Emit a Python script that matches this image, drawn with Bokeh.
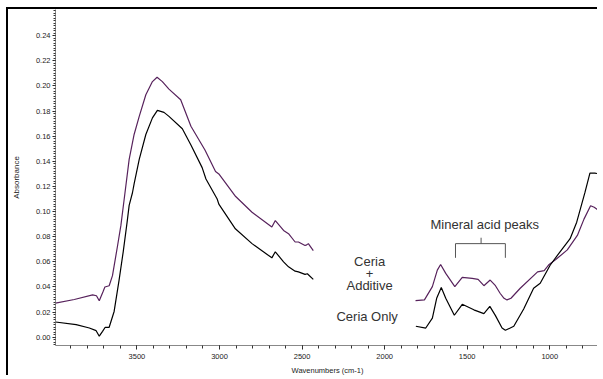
from bokeh.plotting import figure
from bokeh.models import Range1d, FixedTicker, PrintfTickFormatter, Label
from bokeh.embed import file_html
from bokeh.resources import INLINE

NAN = float("nan")

# Ceria + Additive (purple)
add_wn = [3993, 3879, 3768, 3745, 3728, 3706, 3694, 3668, 3648, 3617, 3597, 3577, 3547, 3517,
          3486, 3446, 3406, 3378, 3346, 3306, 3235, 3173, 3088, 3024, 3004, 2902, 2803, 2683,
          2662, 2612, 2582, 2542, 2522, 2482, 2472, 2462, 2432,
          NAN,
          1813, 1759, 1711, 1681, 1661, 1630, 1575, 1530, 1470, 1434, 1399, 1361, 1329, 1301,
          1277, 1259, 1235, 1179, 1074, 1034, 1004, 964, 894, 833, 793, 753, 731, 702]
add_abs = [0.0271, 0.0300, 0.0337, 0.0330, 0.0290, 0.0360, 0.0400, 0.0410, 0.0490, 0.0730, 0.0890,
           0.1100, 0.1416, 0.1614, 0.1758, 0.1930, 0.2035, 0.2070, 0.2035, 0.1975, 0.1890, 0.1680,
           0.1490, 0.1320, 0.1300, 0.1120, 0.0995, 0.0877, 0.0929, 0.0850, 0.0824, 0.0758, 0.0758,
           0.0730, 0.0735, 0.0745, 0.0690,
           NAN,
           0.0292, 0.0297, 0.0403, 0.0534, 0.0579, 0.0508, 0.0403, 0.0476, 0.0468, 0.0460, 0.0410,
           0.0455, 0.0410, 0.0350, 0.0310, 0.0297, 0.0310, 0.0390, 0.0520, 0.0530, 0.0579, 0.0618,
           0.0695, 0.0810, 0.0940, 0.1047, 0.1035, 0.1008]

# Ceria Only (black)
cer_wn = [3993, 3868, 3788, 3747, 3728, 3708, 3692, 3668, 3638, 3608, 3583, 3559, 3547, 3527, 3517,
          3486, 3446, 3406, 3376, 3336, 3306, 3225, 3173, 3105, 3082, 3014, 3004, 2904, 2803, 2683,
          2662, 2612, 2582, 2542, 2522, 2482, 2468, 2432,
          NAN,
          1811, 1751, 1711, 1685, 1657, 1630, 1578, 1530, 1460, 1399, 1363, 1329, 1289, 1269, 1218,
          1158, 1098, 1058, 998, 938, 877, 837, 787, 757, 727, 699]
cer_abs = [0.0121, 0.0100, 0.0073, 0.0052, 0.0008, 0.0047, 0.0079, 0.0079, 0.0205, 0.0455, 0.0680,
           0.0920, 0.1050, 0.1150, 0.1220, 0.1416, 0.1614, 0.1746, 0.1806, 0.1790, 0.1758, 0.1660,
           0.1530, 0.1350, 0.1260, 0.1100, 0.1060, 0.0863, 0.0745, 0.0632, 0.0680, 0.0600, 0.0560,
           0.0526, 0.0520, 0.0500, 0.0505, 0.0460,
           NAN,
           0.0087, 0.0073, 0.0152, 0.0310, 0.0395, 0.0310, 0.0175, 0.0262, 0.0218, 0.0188, 0.0245,
           0.0172, 0.0073, 0.0055, 0.0087, 0.0225, 0.0390, 0.0429, 0.0573, 0.0680, 0.0784, 0.0916,
           0.1153, 0.1306, 0.1306, 0.1300]

y_ticks = [0.00, 0.02, 0.04, 0.06, 0.08, 0.10, 0.12, 0.14, 0.16, 0.18, 0.20, 0.22, 0.24]
x_ticks = [3500, 3000, 2500, 2000, 1500, 1000]

FONT = "Liberation Sans"

p = figure(width=591, height=368, output_backend="svg", toolbar_location=None,
           x_range=Range1d(3993, 699), y_range=Range1d(-0.0066, 0.2609),
           min_border_left=44, min_border_right=0, min_border_top=0, min_border_bottom=29)
p.styles = {"margin-left": "6px", "margin-top": "7px",
            "border-left": "2px solid black", "border-top": "2px solid black"}
p.outline_line_color = None
p.grid.visible = False
p.background_fill_color = "white"
p.border_fill_color = "white"

p.line(add_wn, add_abs, line_color="#57225c", line_width=1.2)
p.line(cer_wn, cer_abs, line_color="black", line_width=1.2)

minor_y = [round(-0.006 + 0.002 * i, 4) for i in range(134)]
p.yaxis.ticker = FixedTicker(ticks=y_ticks, minor_ticks=minor_y)
p.yaxis.formatter = PrintfTickFormatter(format="%.2f")
p.xaxis.ticker = FixedTicker(ticks=x_ticks, minor_ticks=list(range(700, 4000, 100)))

for ax in (p.xaxis, p.yaxis):
    ax.axis_line_color = "#888888"
    ax.major_tick_line_color = "#222222"
    ax.minor_tick_line_color = "#333333"
    ax.minor_tick_line_width = 1
    ax.major_tick_in = 0
    ax.minor_tick_in = 0
    ax.major_label_text_font = FONT
    ax.major_label_text_font_size = "7.5px"
    ax.major_label_text_color = "#222222"
    ax.axis_label_text_font = FONT
    ax.axis_label_text_font_style = "normal"
    ax.axis_label_text_color = "#222222"

p.xaxis.major_tick_out = 4
p.xaxis.minor_tick_out = 3
p.xaxis.major_label_standoff = 4
p.xaxis.axis_label = "Wavenumbers (cm-1)"
p.xaxis.axis_label_text_font_size = "7.5px"
p.xaxis.axis_label_standoff = 4

p.yaxis.major_tick_out = 3
p.yaxis.minor_tick_out = 2
p.yaxis.major_label_standoff = 2
p.yaxis.axis_label = "Absorbance"
p.yaxis.axis_label_text_font_size = "8px"
p.yaxis.axis_label_standoff = 12

ann = dict(text_font=FONT, text_font_size="13px", text_color="#333333",
           text_align="center", text_baseline="middle")
p.add_layout(Label(x=1394, y=0.0895, text="Mineral acid peaks", **ann))
p.add_layout(Label(x=2091, y=0.0603, text="Ceria", **ann))
p.add_layout(Label(x=2091, y=0.0508, text="+", **ann))
p.add_layout(Label(x=2091, y=0.0411, text="Additive", **ann))
p.add_layout(Label(x=2106, y=0.0166, text="Ceria Only", **ann))

# bracket
p.line([1571, 1571, 1269, 1269], [0.0632, 0.0745, 0.0745, 0.0632], line_color="#555555", line_width=1)
p.line([1416, 1416], [0.0745, 0.0792], line_color="#555555", line_width=1)

open("out.html", "w").write(file_html(p, INLINE))
